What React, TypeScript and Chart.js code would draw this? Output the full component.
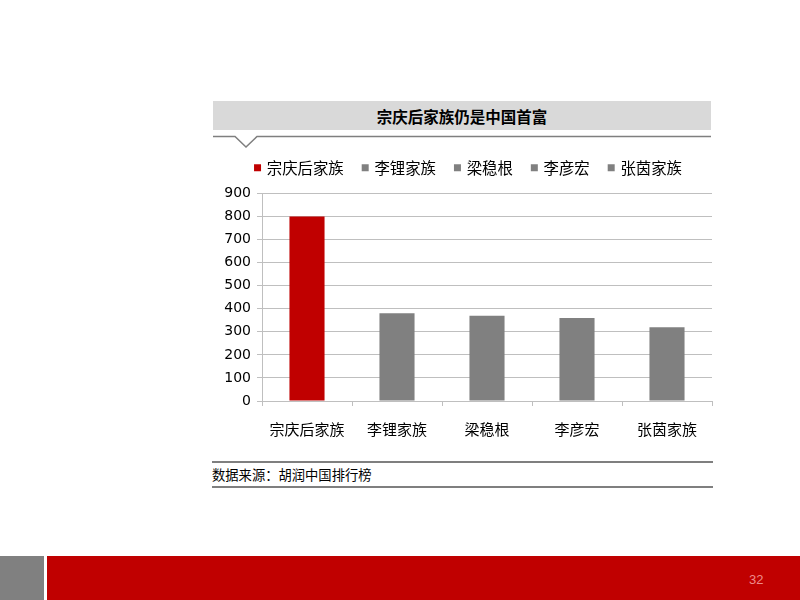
import React, { useEffect, useRef } from "react";
import { Chart, registerables } from "chart.js";

Chart.register(...registerables);

const categories = ["宗庆后家族", "李锂家族", "梁稳根", "李彦宏", "张茵家族"];
const wealth = [800, 380, 370, 360, 320];
const barColors = ["#c00000", "#808080", "#808080", "#808080", "#808080"];
const yTicks = [0, 100, 200, 300, 400, 500, 600, 700, 800, 900];

const titleText = "宗庆后家族仍是中国首富";
const sourceText = "数据来源：胡润中国排行榜";
const pageNumber = "32";

const CJK = "'Noto Sans CJK SC', sans-serif";

const legendSpacer = {
  id: "legendSpacer",
  beforeInit(chart: any) {
    const legend = chart.legend;
    if (!legend) return;
    const orig = legend.fit;
    legend.fit = function () {
      orig.call(this);
      this.height += 8;
    };
  },
  afterLayout(chart: any) {
    const legend = chart.legend;
    if (!legend) return;
    legend.left += 7;
    legend.right += 7;
  },
};

export default function App() {
  const canvasRef = useRef<HTMLCanvasElement | null>(null);

  useEffect(() => {
    const canvas = canvasRef.current;
    if (!canvas) return;
    const chart = new Chart(canvas, {
      type: "bar",
      data: {
        labels: categories,
        datasets: [
          {
            data: wealth,
            backgroundColor: barColors,
            borderWidth: 0,
            barPercentage: 0.39,
            categoryPercentage: 1,
          },
        ],
      },
      plugins: [legendSpacer],
      options: {
        responsive: false,
        animation: false,
        layout: { padding: { left: 0, right: 4, top: -10, bottom: 0 } },
        plugins: {
          tooltip: { enabled: false },
          legend: {
            display: true,
            position: "top",
            labels: {
              usePointStyle: true,
              pointStyle: "rect",
              boxWidth: 3,
              boxHeight: 7,
              padding: 20,
              color: "#000",
              font: { family: CJK, size: 15.4 },
              generateLabels: () =>
                categories.map((c, i) => ({
                  text: c,
                  fillStyle: barColors[i],
                  strokeStyle: barColors[i],
                  lineWidth: 0,
                  pointStyle: "rect",
                  hidden: false,
                  index: i,
                  fontColor: "#000",
                })),
            },
          },
        },
        scales: {
          x: {
            grid: {
              display: true,
              drawOnChartArea: false,
              drawTicks: true,
              tickLength: 5,
              color: "#bfbfbf",
              offset: true,
            },
            border: { color: "#bfbfbf" },
            ticks: {
              color: "#000",
              font: { family: CJK, size: 15 },
              padding: 14,
              maxRotation: 0,
            },
            afterFit: (scale: any) => {
              scale.height = 49;
            },
          },
          y: {
            min: 0,
            max: 900,
            afterBuildTicks: (scale: any) => {
              scale.ticks = yTicks.map((v) => ({ value: v }));
            },
            grid: {
              color: "#bfbfbf",
              tickLength: 5,
            },
            border: { color: "#bfbfbf" },
            ticks: {
              color: "#000",
              font: { family: "'DejaVu Sans', sans-serif", size: 14 },
              padding: 6,
            },
            afterFit: (scale: any) => {
              scale.width = 50;
            },
          },
        },
      },
    });
    return () => chart.destroy();
  }, []);

  return (
    <div
      style={{
        position: "absolute",
        left: 0,
        top: 0,
        width: 800,
        height: 600,
        background: "#fff",
        overflow: "hidden",
        fontFamily: CJK,
      }}
    >
      <div
        style={{
          position: "absolute",
          left: 213,
          top: 101,
          width: 498,
          height: 29,
          background: "#d9d9d9",
          display: "flex",
          alignItems: "center",
          justifyContent: "center",
          fontWeight: "bold",
          fontSize: 15.5,
          color: "#000",
        }}
      >
        {titleText}
      </div>
      <svg
        style={{ position: "absolute", left: 0, top: 0 }}
        width={800}
        height={600}
      >
        <polyline
          points="213,136.5 235,136.5 246,147 257,136.5 711,136.5"
          fill="none"
          stroke="#7f7f7f"
          strokeWidth={1.5}
        />
        <line x1={212} y1={462} x2={713} y2={462} stroke="#7f7f7f" strokeWidth={1.8} />
        <line x1={212} y1={487} x2={713} y2={487} stroke="#7f7f7f" strokeWidth={1.8} />
        <rect x={0} y={556} width={44} height={44} fill="#808080" />
        <rect x={47} y={556} width={753} height={44} fill="#c00000" />
      </svg>
      <div
        style={{
          position: "absolute",
          left: 212,
          top: 466,
          fontSize: 13.3,
          lineHeight: "18px",
          color: "#000",
          whiteSpace: "nowrap",
        }}
      >
        {sourceText}
      </div>
      <div
        style={{
          position: "absolute",
          left: 749,
          top: 572,
          fontSize: 13,
          lineHeight: "16px",
          color: "#ee8a8a",
          fontFamily: "'Liberation Sans Narrow', 'Liberation Sans', sans-serif",
        }}
      >
        {pageNumber}
      </div>
      <div style={{ position: "absolute", left: 212, top: 150, width: 504, height: 300 }}>
        <canvas ref={canvasRef} width={504} height={300} style={{ width: 504, height: 300 }} />
      </div>
    </div>
  );
}
